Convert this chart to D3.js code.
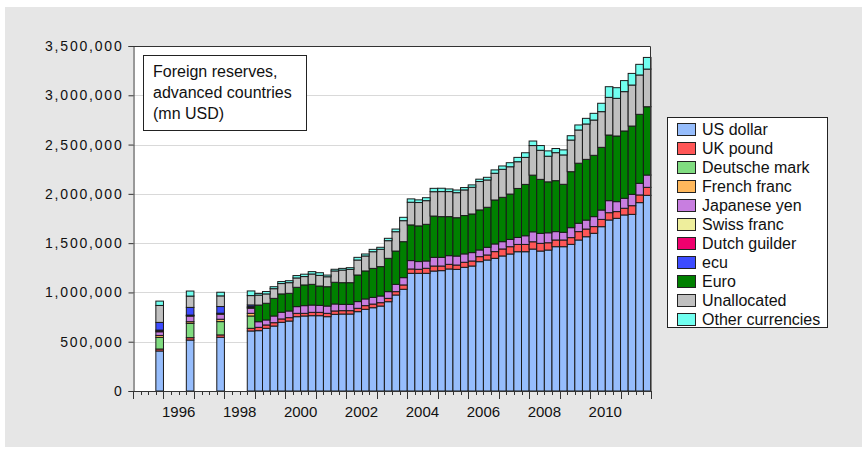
<!DOCTYPE html>
<html>
<head>
<meta charset="utf-8">
<script src="https://cdn.jsdelivr.net/npm/d3@7"></script>
<style>
  html, body { margin: 0; padding: 0; background: #ffffff; }
  svg { display: block; font-family: "Liberation Sans", Arial, sans-serif; }
</style>
</head>
<body>
<svg id="chart" width="867" height="451"></svg>
<script>
// ---- data (mn USD) ----
const periods = ["1995Q4","1996Q4","1997Q4","1998Q4",
  "1999Q1","1999Q2","1999Q3","1999Q4","2000Q1","2000Q2","2000Q3","2000Q4",
  "2001Q1","2001Q2","2001Q3","2001Q4","2002Q1","2002Q2","2002Q3","2002Q4",
  "2003Q1","2003Q2","2003Q3","2003Q4","2004Q1","2004Q2","2004Q3","2004Q4",
  "2005Q1","2005Q2","2005Q3","2005Q4","2006Q1","2006Q2","2006Q3","2006Q4",
  "2007Q1","2007Q2","2007Q3","2007Q4","2008Q1","2008Q2","2008Q3","2008Q4",
  "2009Q1","2009Q2","2009Q3","2009Q4","2010Q1","2010Q2","2010Q3","2010Q4",
  "2011Q1","2011Q2","2011Q3","2011Q4"];

const usDollar = [406000,517000,545000,609000,
  612000,636000,659000,697000,710000,754000,761000,764000,
  764000,754000,778000,781000,781000,805000,829000,845000,
  862000,906000,974000,1032000,1194000,1194000,1194000,1217000,
  1221000,1238000,1234000,1255000,1268000,1312000,1329000,1346000,
  1370000,1390000,1413000,1413000,1440000,1420000,1430000,1464000,
  1464000,1488000,1532000,1565000,1600000,1667000,1735000,1752000,
  1786000,1792000,1911000,1985000];
const ukPound = [20000,24000,24000,27000,
  34000,34000,34000,34000,34000,34000,27000,34000,
  34000,34000,34000,34000,34000,34000,37000,37000,
  34000,34000,34000,44000,44000,41000,51000,51000,
  47000,47000,44000,51000,51000,51000,51000,68000,
  71000,74000,74000,74000,74000,78000,74000,68000,
  68000,68000,85000,78000,68000,74000,74000,68000,
  68000,88000,78000,81000];
const deutscheMark = [118000,145000,135000,125000].concat(new Array(52).fill(0));
const frenchFranc  = [20000,17000,24000,27000].concat(new Array(52).fill(0));
const japaneseYen = [37000,57000,51000,51000,
  57000,51000,68000,68000,68000,68000,78000,74000,
  71000,74000,71000,64000,64000,68000,68000,68000,
  68000,68000,74000,74000,85000,78000,74000,88000,
  88000,88000,91000,85000,85000,68000,78000,78000,
  74000,74000,71000,88000,101000,101000,101000,85000,
  78000,101000,85000,91000,101000,95000,122000,101000,
  101000,115000,118000,125000];
const swissFranc   = [7000,5000,5000,8000].concat(new Array(52).fill(0));
const dutchGuilder = [10000,5000,5000,9000].concat(new Array(52).fill(0));
const ecu          = [78000,78000,68000,17000].concat(new Array(52).fill(0));
const euro = [0,0,0,0,
  169000,169000,179000,186000,179000,196000,210000,210000,
  196000,196000,220000,220000,220000,270000,284000,294000,
  298000,338000,338000,365000,362000,362000,372000,419000,
  413000,396000,389000,389000,392000,406000,406000,446000,
  450000,460000,497000,521000,575000,548000,517000,517000,
  487000,568000,609000,616000,622000,636000,666000,666000,
  683000,693000,700000,693000];
const unallocated = [172000,115000,108000,95000,
  101000,95000,98000,105000,108000,95000,85000,105000,
  108000,101000,115000,128000,135000,152000,152000,169000,
  176000,179000,196000,213000,230000,237000,240000,247000,
  254000,254000,254000,260000,271000,288000,277000,271000,
  284000,277000,271000,274000,300000,295000,260000,284000,
  298000,321000,337000,359000,358000,362000,382000,382000,
  399000,416000,399000,382000];
const otherCurrencies = [44000,51000,37000,47000,
  17000,24000,20000,20000,20000,24000,24000,24000,
  27000,17000,17000,17000,17000,27000,20000,24000,
  20000,24000,27000,34000,34000,27000,30000,34000,
  34000,27000,27000,24000,24000,24000,27000,34000,
  34000,41000,44000,47000,46000,48000,54000,42000,
  51000,44000,51000,57000,68000,85000,108000,108000,
  112000,118000,108000,118000];

const seriesNames = ["US dollar","UK pound","Deutsche mark","French franc","Japanese yen",
  "Swiss franc","Dutch guilder","ecu","Euro","Unallocated","Other currencies"];
const seriesValues = [usDollar, ukPound, deutscheMark, frenchFranc, japaneseYen,
  swissFranc, dutchGuilder, ecu, euro, unallocated, otherCurrencies];
const seriesColors = ["#96bdfc","#ff5656","#80dc80","#ffb85c","#c87ee0",
  "#eeee9c","#f0006e","#3d4cff","#008000","#c0c0c0","#70fff0"];

const yTicks = [0,500000,1000000,1500000,2000000,2500000,3000000,3500000];
const yearLabels = [1996,1998,2000,2002,2004,2006,2008,2010];
const titleLines = ["Foreign reserves,","advanced countries","(mn USD)"];

// ---- build table ----
const rows = periods.map((p, i) => {
  const r = { period: p, t: +p.slice(0,4) + (+p.slice(5) - 1) / 4 };
  seriesNames.forEach((s, k) => r[s] = seriesValues[k][i]);
  return r;
});

const svg = d3.select("#chart");
const plot = { left: 133, right: 651, top: 46, bottom: 391 };

// background panel
svg.append("rect").attr("x", 5).attr("y", 7).attr("width", 857).attr("height", 440)
  .attr("fill", "#e6e6e6");
svg.append("rect").attr("x", plot.left).attr("y", plot.top)
  .attr("width", plot.right - plot.left).attr("height", plot.bottom - plot.top)
  .attr("fill", "#ffffff");

const x = d3.scaleLinear().domain([1995, 2012]).range([plot.left, plot.right]);
const y = d3.scaleLinear().domain([0, 3500000]).range([plot.bottom, plot.top]);

// gridlines
svg.append("g").selectAll("line").data(yTicks.slice(1, -1)).join("line")
  .attr("x1", plot.left).attr("x2", plot.right)
  .attr("y1", d => Math.round(y(d)) + 0.5).attr("y2", d => Math.round(y(d)) + 0.5)
  .attr("stroke", "#d9d9d9").attr("stroke-width", 1);

// stacked bars
const stack = d3.stack().keys(seriesNames);
const layers = stack(rows);
const gBars = svg.append("g");
layers.forEach((layer, k) => {
  gBars.append("g").selectAll("rect")
    .data(layer.filter(d => d[1] - d[0] > 0)).join("rect")
    .attr("x", d => x(d.data.t))
    .attr("width", d => x(d.data.t + 0.25) - x(d.data.t))
    .attr("y", d => y(d[1]))
    .attr("height", d => y(d[0]) - y(d[1]))
    .attr("fill", seriesColors[k])
    .attr("stroke", "#1a1a1a").attr("stroke-width", 1);
});

// frame top/right
svg.append("path")
  .attr("d", `M${plot.left},${plot.top + 0.5}H${plot.right - 0.5}V${plot.bottom}`)
  .attr("fill", "none").attr("stroke", "#333").attr("stroke-width", 1);

// y axis
const yAxis = d3.axisLeft(y).tickValues(yTicks).tickSize(5).tickPadding(5)
  .tickFormat(d3.format(",.0f"));
const gy = svg.append("g").attr("transform", `translate(${plot.left + 0.5},0)`).call(yAxis);
gy.select(".domain").attr("stroke", "#333");
gy.selectAll(".tick line").attr("stroke", "#333");
gy.selectAll("text").attr("font-size", 14).attr("fill", "#111")
  .attr("letter-spacing", "1.8px")
  .attr("font-family", "Liberation Sans, Arial, sans-serif");

// x axis: quarterly minor ticks, yearly major ticks
const quarterTicks = d3.range(1995, 2012.001, 0.25);
const gx = svg.append("g");
gx.append("line").attr("x1", plot.left).attr("x2", plot.right)
  .attr("y1", plot.bottom + 0.5).attr("y2", plot.bottom + 0.5).attr("stroke", "#333");
gx.selectAll("line.tk").data(quarterTicks).join("line").attr("class", "tk")
  .attr("x1", d => Math.round(x(d)) + 0.5).attr("x2", d => Math.round(x(d)) + 0.5)
  .attr("y1", plot.bottom)
  .attr("y2", d => Math.abs(d - Math.round(d)) < 1e-6 ? plot.bottom + 8 : plot.bottom + 4)
  .attr("stroke", "#333");
gx.selectAll("text").data(yearLabels).join("text")
  .attr("x", d => x(d + 0.5)).attr("y", 417)
  .attr("text-anchor", "middle").attr("font-size", 15).attr("fill", "#111")
  .text(d => d);

// title box
const tb = svg.append("g");
tb.append("rect").attr("x", 143.5).attr("y", 55.5).attr("width", 163).attr("height", 75)
  .attr("fill", "#fff").attr("stroke", "#222");
tb.selectAll("text").data(titleLines).join("text")
  .attr("x", 153).attr("y", (d, i) => 77 + i * 21)
  .attr("font-size", 16).attr("fill", "#111").text(d => d);

// legend
const lg = svg.append("g");
lg.append("rect").attr("x", 667.5).attr("y", 117.5).attr("width", 160).attr("height", 210)
  .attr("fill", "#fff").attr("stroke", "#222");
const li = lg.selectAll("g.item").data(seriesNames).join("g").attr("class", "item")
  .attr("transform", (d, i) => `translate(677,${123 + i * 19})`);
li.append("rect").attr("x", 0.5).attr("y", 0.5).attr("width", 18).attr("height", 12)
  .attr("fill", (d, i) => seriesColors[i]).attr("stroke", "#222");
li.append("text").attr("x", 25).attr("y", 12).attr("font-size", 16)
  .attr("fill", "#111").text(d => d);
</script>
</body>
</html>
